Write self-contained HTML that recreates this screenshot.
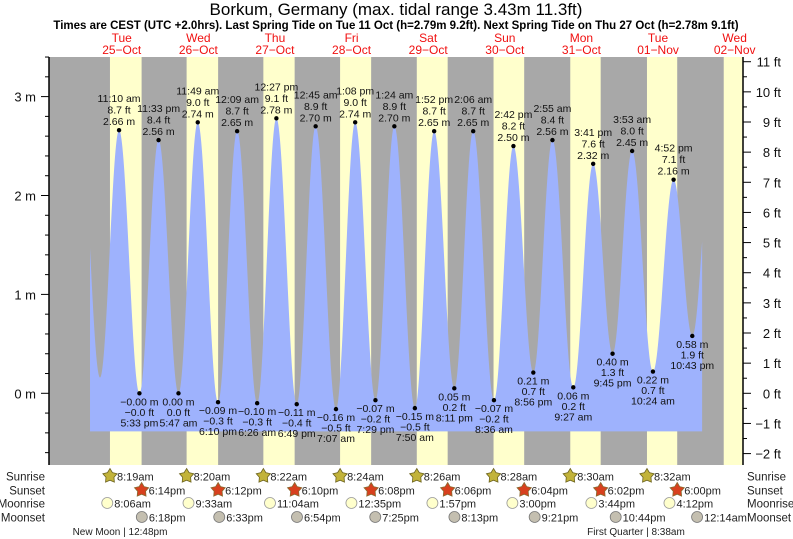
<!DOCTYPE html>
<html><head><meta charset="utf-8"><title>Borkum tide chart</title>
<style>
html,body{margin:0;padding:0;background:#fff;}
svg{display:block;font-family:"Liberation Sans",Arial,sans-serif;}
</style></head>
<body>
<svg id="chart" width="793" height="539" viewBox="0 0 793 539">
<text x="396" y="15" font-size="17" text-anchor="middle" fill="#000">Borkum, Germany (max. tidal range 3.43m 11.3ft)</text>
<text x="396" y="29" font-size="11.5" font-weight="bold" text-anchor="middle" fill="#000">Times are CEST (UTC +2.0hrs). Last Spring Tide on Tue 11 Oct (h=2.79m 9.2ft). Next Spring Tide on Thu 27 Oct (h=2.78m 9.1ft)</text>
<g id="days"></g>
<g id="plot"></g>
<g id="marks"></g>
<g id="axes"></g>
<g id="astro"></g>
</svg>
<script>
// ---- data (hours since Tue 25-Oct 00:00 CEST) ----
const extremeTimes = [-1.0, 5.2, 11.17, 17.55, 23.55, 29.78, 35.82, 42.17, 48.15, 54.43, 60.45, 66.82, 72.75, 79.12, 85.13, 91.48, 97.4, 103.83, 109.87, 116.18, 122.1, 128.6, 134.7, 140.93, 146.92, 153.45, 159.68, 165.75, 171.88, 178.4, 184.87, 190.72, 196.9];
const extremeHeights = [2.74, 0.16, 2.66, -0.00, 2.56, 0.00, 2.74, -0.09, 2.65, -0.10, 2.78, -0.11, 2.70, -0.16, 2.74, -0.07, 2.70, -0.15, 2.65, 0.05, 2.65, -0.07, 2.50, 0.21, 2.56, 0.06, 2.32, 0.40, 2.45, 0.22, 2.16, 0.58, 2.5];
const extremeLabeled = [false,false,true,true,true,true,true,true,true,true,true,true,true,true,true,true,true,true,true,true,true,true,true,true,true,true,true,true,true,true,true,true,false];
const extremeClock = ["","","11:10 am","5:33 pm","11:33 pm","5:47 am","11:49 am","6:10 pm","12:09 am","6:26 am","12:27 pm","6:49 pm","12:45 am","7:07 am","1:08 pm","7:29 pm","1:24 am","7:50 am","1:52 pm","8:11 pm","2:06 am","8:36 am","2:42 pm","8:56 pm","2:55 am","9:27 am","3:41 pm","9:45 pm","3:53 am","10:24 am","4:52 pm","10:43 pm",""];
const extremeFt = ["","","8.7 ft","\u22120.0 ft","8.4 ft","0.0 ft","9.0 ft","\u22120.3 ft","8.7 ft","\u22120.3 ft","9.1 ft","\u22120.4 ft","8.9 ft","\u22120.5 ft","9.0 ft","\u22120.2 ft","8.9 ft","\u22120.5 ft","8.7 ft","0.2 ft","8.7 ft","\u22120.2 ft","8.2 ft","0.7 ft","8.4 ft","0.2 ft","7.6 ft","1.3 ft","8.0 ft","0.7 ft","7.1 ft","1.9 ft",""];
const extremeM = ["","","2.66 m","\u22120.00 m","2.56 m","0.00 m","2.74 m","\u22120.09 m","2.65 m","\u22120.10 m","2.78 m","\u22120.11 m","2.70 m","\u22120.16 m","2.74 m","\u22120.07 m","2.70 m","\u22120.15 m","2.65 m","0.05 m","2.65 m","\u22120.07 m","2.50 m","0.21 m","2.56 m","0.06 m","2.32 m","0.40 m","2.45 m","0.22 m","2.16 m","0.58 m",""];
const curveStart = 2.07, curveEnd = 193.8, curveBase = -0.385;
const dayNames = ["Tue","Wed","Thu","Fri","Sat","Sun","Mon","Tue","Wed"];
const dayDates = ["25\u2212Oct","26\u2212Oct","27\u2212Oct","28\u2212Oct","29\u2212Oct","30\u2212Oct","31\u2212Oct","01\u2212Nov","02\u2212Nov"];
const sunriseHours = [8.32, 8.33, 8.37, 8.40, 8.43, 8.47, 8.50, 8.53, 8.57];
const sunsetHours = [18.23, 18.20, 18.17, 18.13, 18.10, 18.07, 18.03, 18.00];
const sunriseText = ["8:19am","8:20am","8:22am","8:24am","8:26am","8:28am","8:30am","8:32am"];
const sunsetText = ["6:14pm","6:12pm","6:10pm","6:08pm","6:06pm","6:04pm","6:02pm","6:00pm"];
const moonriseHours = [8.1, 33.55, 59.07, 84.58, 109.95, 135.0, 159.73, 184.2];
const moonriseText = ["8:06am","9:33am","11:04am","12:35pm","1:57pm","3:00pm","3:44pm","4:12pm"];
const moonsetHours = [18.3, 42.55, 66.9, 91.42, 116.22, 141.35, 166.73, 192.23];
const moonsetText = ["6:18pm","6:33pm","6:54pm","7:25pm","8:13pm","9:21pm","10:44pm","12:14am"];
const mTicks = [0,1,2,3];
const ftTicks = [-2,-1,0,1,2,3,4,5,6,7,8,9,10,11];

// ---- scales ----
const X0 = 83.4, PXH = 3.1925, Y0 = 393.3, PXM = 98.9;
const PL = 49, PR = 743, PT = 57, PB = 465;
const xs = t => X0 + t * PXH;
const ys = m => Y0 - m * PXM;
const yft = f => Y0 - f * 0.3048 * PXM;
const NS = "http://www.w3.org/2000/svg";
function mk(tag, attrs, parent, txt){
  const e = document.createElementNS(NS, tag);
  for (const k in attrs) e.setAttribute(k, attrs[k]);
  if (txt !== undefined) e.textContent = txt;
  parent.appendChild(e);
  return e;
}
const days = document.getElementById('days');
const plot = document.getElementById('plot');
const marks = document.getElementById('marks');
const axes = document.getElementById('axes');
const astro = document.getElementById('astro');

// day labels
dayNames.forEach((d, i) => {
  const cx = xs(i * 24 + 12);
  const t1 = mk('text', {x: cx, y: 42, 'font-size': 12, 'text-anchor': 'middle', fill: '#f01010'}, days, d);
  
  
  const t2 = mk('text', {x: cx, y: 54, 'font-size': 12, 'text-anchor': 'middle', fill: '#f01010'}, days, dayDates[i]);
  
  
});

// background night + day bands
const bg = mk('rect', {x: PL, y: PT, width: PR - PL, height: PB - PT, fill: '#a8a8a8'}, plot);


sunriseHours.forEach((sr, i) => {
  const a = xs(i * 24 + sr);
  const b = i < sunsetHours.length ? xs(i * 24 + sunsetHours[i]) : PR;
  const r = mk('rect', {x: a, y: PT, width: Math.min(b, PR) - a, height: PB - PT, fill: '#ffffcc'}, plot);
  
  
});

// tide curve (cosine interpolation between extremes)
function heightAt(t){
  for (let i = 0; i < extremeTimes.length - 1; i++){
    const a = extremeTimes[i], b = extremeTimes[i+1];
    if (t >= a && t <= b){
      const f = (t - a) / (b - a);
      const ha = extremeHeights[i], hb = extremeHeights[i+1];
      return ha + (hb - ha) * (1 - Math.cos(Math.PI * f)) / 2;
    }
  }
  return extremeHeights[0];
}
let d = `M${xs(curveStart).toFixed(2)},${ys(curveBase).toFixed(2)}`;
for (let t = curveStart; t <= curveEnd + 1e-6; t += 0.05){
  d += ` L${xs(t).toFixed(2)},${ys(heightAt(t)).toFixed(2)}`;
}
d += ` L${xs(curveEnd).toFixed(2)},${ys(heightAt(curveEnd)).toFixed(2)} L${xs(curveEnd).toFixed(2)},${ys(curveBase).toFixed(2)} Z`;
const area = mk('path', {d: d, fill: '#9eb2fd'}, plot);



// extreme points + labels
extremeTimes.forEach((t, i) => {
  if (!extremeLabeled[i]) return;
  const x = xs(t), y = ys(extremeHeights[i]);
  const high = i > 0 && extremeHeights[i] > extremeHeights[i-1];
  const dot = mk('circle', {cx: x, cy: y, r: 2.2, fill: '#000'}, marks);
  
  
  const lines = high ? [extremeClock[i], extremeFt[i], extremeM[i]] : [extremeM[i], extremeFt[i], extremeClock[i]];
  lines.forEach((s, k) => {
    const ty = high ? y - 5 - (2 - k) * 11.5 : y + 12 + k * 10.5;
    const tx = mk('text', {x: x, y: ty, 'font-size': 10.5, 'text-anchor': 'middle', fill: '#111'}, marks, s);
    
    
  });
});

// axes
const la = mk('line', {x1: PL, y1: PT, x2: PL, y2: PB, stroke: '#000', 'stroke-width': 1.5}, axes);


const ra = mk('line', {x1: PR, y1: PT, x2: PR, y2: PB, stroke: '#000', 'stroke-width': 1.5}, axes);


for (let m = -0.6; m <= 3.61; m += 0.2){
  const y = ys(m);
  if (y < PT || y > PB) continue;
  const major = Math.abs(m - Math.round(m)) < 1e-6;
  const tk = mk('line', {x1: PL - (major ? 8 : 4), y1: y, x2: PL, y2: y, stroke: '#000', 'stroke-width': 1}, axes);
  
  
}
mTicks.forEach(m => {
  const tx = mk('text', {x: 36, y: ys(m) + 5, 'font-size': 13, 'text-anchor': 'end', fill: '#111'}, axes, m + ' m');
  
  
});
for (let f = -2.5; f <= 11.01; f += 0.5){
  const y = yft(f);
  if (y < PT || y > PB) continue;
  const major = Math.abs(f - Math.round(f)) < 1e-6;
  const tk = mk('line', {x1: PR, y1: y, x2: PR + (major ? 8 : 4), y2: y, stroke: '#000', 'stroke-width': 1}, axes);
  
  
}
ftTicks.forEach(f => {
  const lbl = (f < 0 ? '\u2212' + Math.abs(f) : f) + ' ft';
  const tx = mk('text', {x: 781, y: yft(f) + 5, 'font-size': 13, 'text-anchor': 'end', fill: '#111'}, axes, lbl);
  
  
});

// astro rows
const rowY = [476, 490, 503, 517];
const rowNames = ["Sunrise","Sunset","Moonrise","Moonset"];
rowNames.forEach((n, i) => {
  const a = mk('text', {x: 45, y: rowY[i] + 4.5, 'font-size': 11.5, 'text-anchor': 'end', fill: '#222'}, astro, n);
  
  
  const b = mk('text', {x: 747, y: rowY[i] + 4.5, 'font-size': 11.5, fill: '#222'}, astro, n);
  
  
});
function starPts(cx, cy, R, r){
  let p = [];
  for (let k = 0; k < 10; k++){
    const ang = -Math.PI / 2 + k * Math.PI / 5;
    const rr = k % 2 ? r : R;
    p.push((cx + rr * Math.cos(ang)).toFixed(2) + ',' + (cy + rr * Math.sin(ang)).toFixed(2));
  }
  return p.join(' ');
}
sunriseText.forEach((s, i) => {
  const x = xs(i * 24 + sunriseHours[i]);
  const st = mk('polygon', {points: starPts(x, rowY[0], 7.5, 4.2), fill: '#c2b33a', stroke: '#6d6420', 'stroke-width': 0.8}, astro);
  
  
  const tx = mk('text', {x: x + 7, y: rowY[0] + 4.5, 'font-size': 11, fill: '#222'}, astro, s);
  
  
});
sunsetText.forEach((s, i) => {
  const x = xs(i * 24 + sunsetHours[i]);
  const st = mk('polygon', {points: starPts(x, rowY[1], 7.5, 4.2), fill: '#d8401e', stroke: '#8a6a30', 'stroke-width': 0.8}, astro);
  
  
  const tx = mk('text', {x: x + 7, y: rowY[1] + 4.5, 'font-size': 11, fill: '#222'}, astro, s);
  
  
});
moonriseText.forEach((s, i) => {
  const x = xs(moonriseHours[i]) - 2;
  const c = mk('circle', {cx: x, cy: rowY[2], r: 5.5, fill: '#ffffcc', stroke: '#999', 'stroke-width': 0.8}, astro);
  
  
  const tx = mk('text', {x: x + 7, y: rowY[2] + 4.5, 'font-size': 11, fill: '#222'}, astro, s);
  
  
});
moonsetText.forEach((s, i) => {
  const x = xs(moonsetHours[i]);
  const c = mk('circle', {cx: x, cy: rowY[3], r: 5.5, fill: '#c4bfb0', stroke: '#777', 'stroke-width': 0.8}, astro);
  
  
  const tx = mk('text', {x: x + 7, y: rowY[3] + 4.5, 'font-size': 11, fill: '#222'}, astro, s);
  
  
});
const nm = mk('text', {x: 120, y: 535, 'font-size': 10, 'text-anchor': 'middle', fill: '#222'}, astro, 'New Moon | 12:48pm');


const fq = mk('text', {x: 636, y: 535, 'font-size': 10, 'text-anchor': 'middle', fill: '#222'}, astro, 'First Quarter | 8:38am');


</script>
</body></html>
